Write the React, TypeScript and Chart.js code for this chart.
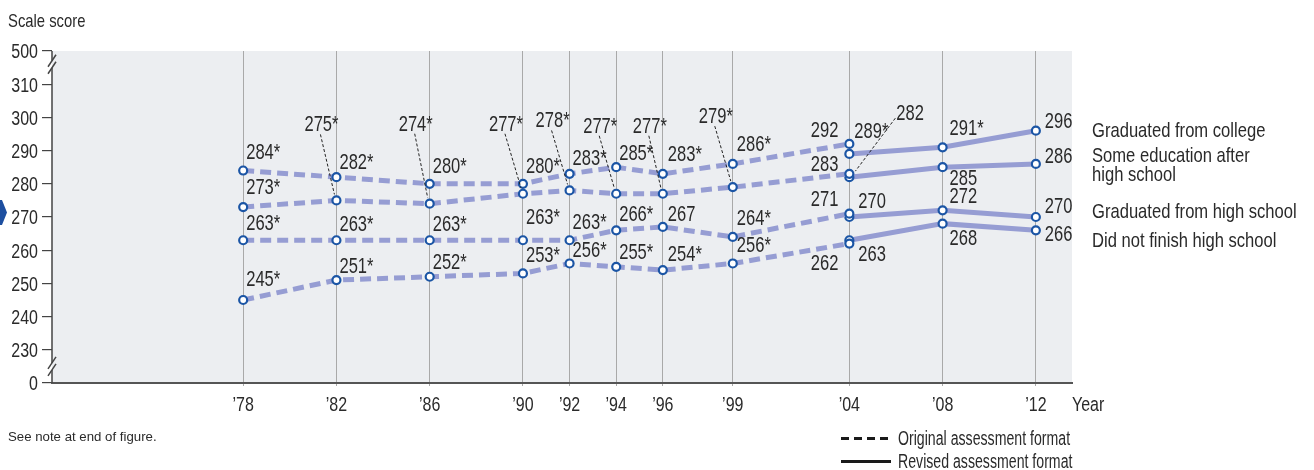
import React, { useEffect, useRef } from 'react';
import { Chart, registerables } from 'chart.js';

Chart.register(...registerables);

// ---------- DATA ----------
const origYears = [1978, 1982, 1986, 1990, 1992, 1994, 1996, 1999, 2004];
const revYears = [2004, 2008, 2012];
const tickYears = [1978, 1982, 1986, 1990, 1992, 1994, 1996, 1999, 2004, 2008, 2012];
const tickYearLabels = ['’78', '’82', '’86', '’90', '’92', '’94', '’96', '’99', '’04', '’08', '’12'];
const yTickValues = [220, 230, 240, 250, 260, 270, 280, 290, 300, 310, 320];
const yTickLabels = ['0', '230', '240', '250', '260', '270', '280', '290', '300', '310', '500'];

const collegeOrig = [284, 282, 280, 280, 283, 285, 283, 286, 292];
const collegeOrigSig = [1, 1, 1, 1, 1, 1, 1, 1, 0];
const collegeRev = [289, 291, 296];
const collegeRevSig = [1, 1, 0];

const someOrig = [273, 275, 274, 277, 278, 277, 277, 279, 283];
const someOrigSig = [1, 1, 1, 1, 1, 1, 1, 1, 0];
const someRev = [282, 285, 286];
const someRevSig = [0, 0, 0];

const hsOrig = [263, 263, 263, 263, 263, 266, 267, 264, 271];
const hsOrigSig = [1, 1, 1, 1, 1, 1, 0, 1, 0];
const hsRev = [270, 272, 270];
const hsRevSig = [0, 0, 0];

const noOrig = [245, 251, 252, 253, 256, 255, 254, 256, 262];
const noOrigSig = [1, 1, 1, 1, 1, 1, 1, 1, 0];
const noRev = [263, 268, 266];
const noRevSig = [0, 0, 0];

const seriesLabelLines = [
  ['Graduated from college'],
  ['Some education after', 'high school'],
  ['Graduated from high school'],
  ['Did not finish high school'],
];

// ---------- STYLE / PLACEMENT ----------
const FONT = "'Liberation Sans', Arial, sans-serif";
const SX = 0.78; // horizontal condensing of text
const TEXT = '#2a2a2a';
const LINE = '#969dd3';
const POINT = '#1b55a5';

type Place = { dx: number; dy: number; align: 'left' | 'right'; lead?: 'down' | 'side' };
const P = (dx: number, dy: number, align: 'left' | 'right' = 'left', lead?: 'down' | 'side'): Place => ({ dx, dy, align, lead });

const placeCollegeOrig = [P(3, -17), P(3, -14), P(3, -17), P(3, -17), P(3, -15), P(3, -13), P(5, -19), P(4, -19), P(-11, -12.5, 'right')];
const placeCollegeRev = [P(5, -22), P(7, -18), P(9, -9)];
const placeSomeOrig = [P(3, -18.5), P(-32, -75, 'left', 'down'), P(-31, -79, 'left', 'down'), P(-34, -69, 'left', 'down'), P(-34, -69, 'left', 'down'), P(-33, -67, 'left', 'down'), P(-30, -67, 'left', 'down'), P(-34, -70, 'left', 'down'), P(-11, -9, 'right')];
const placeSomeRev = [P(47, -63, 'left', 'side'), P(7, 12), P(9, -7)];
const placeHsOrig = [P(3, -16), P(3, -15), P(3, -15), P(3, -22), P(3, -17), P(3, -15), P(5, -11.5), P(4, -18), P(-11, -14, 'right')];
const placeHsRev = [P(9, -14.5), P(7, -13), P(9, -9.5)];
const placeNoOrig = [P(3, -20), P(3, -13.5), P(3, -14), P(3, -17), P(3, -12), P(3, -14), P(5, -14.6), P(4, -17), P(-11, 21, 'right')];
const placeNoRev = [P(9, 15), P(7, 15), P(9, 5)];

const seriesLabelBaselines = [[136.5], [162, 180.5], [218], [247]];

const toPts = (xs: number[], ys: number[]) => xs.map((x, i) => ({ x, y: ys[i] }));

const mkDs = (label: string, xs: number[], ys: number[], dashed: boolean) => ({
  label,
  data: toPts(xs, ys),
  borderColor: LINE,
  borderWidth: 5,
  borderDash: dashed ? [11, 6] : [],
  borderCapStyle: 'butt' as const,
  pointRadius: 4,
  pointBorderWidth: 2.2,
  pointBorderColor: POINT,
  pointBackgroundColor: '#ffffff',
  tension: 0,
  fill: false,
});

const labelInfo = [
  { vals: collegeOrig, sig: collegeOrigSig, place: placeCollegeOrig },
  { vals: collegeRev, sig: collegeRevSig, place: placeCollegeRev },
  { vals: someOrig, sig: someOrigSig, place: placeSomeOrig },
  { vals: someRev, sig: someRevSig, place: placeSomeRev },
  { vals: hsOrig, sig: hsOrigSig, place: placeHsOrig },
  { vals: hsRev, sig: hsRevSig, place: placeHsRev },
  { vals: noOrig, sig: noOrigSig, place: placeNoOrig },
  { vals: noRev, sig: noRevSig, place: placeNoRev },
];

function drawText(
  ctx: CanvasRenderingContext2D,
  txt: string,
  x: number,
  y: number,
  size: number,
  align: CanvasTextAlign = 'left',
  baseline: CanvasTextBaseline = 'alphabetic',
  sx: number = SX,
  family: string = FONT,
) {
  ctx.save();
  ctx.font = `${size}px ${family}`;
  ctx.textAlign = align;
  ctx.textBaseline = baseline;
  ctx.fillStyle = TEXT;
  ctx.translate(x, y);
  ctx.scale(sx, 1);
  ctx.fillText(txt, 0, 0);
  ctx.restore();
}

const decorPlugin = {
  id: 'decor',
  beforeDraw(chart: any) {
    const { ctx, chartArea: a } = chart;
    ctx.save();
    ctx.fillStyle = '#ffffff';
    ctx.fillRect(0, 0, chart.width, chart.height);
    ctx.fillStyle = '#eceef1';
    ctx.fillRect(a.left, a.top, a.right - a.left, a.bottom - a.top);
    ctx.restore();
  },
  afterDatasetsDraw(chart: any) {
    const { ctx } = chart;
    labelInfo.forEach((info, di) => {
      const meta = chart.getDatasetMeta(di);
      info.vals.forEach((v, j) => {
        const pt = meta.data[j];
        const pl = info.place[j];
        const txt = `${v}${info.sig[j] ? '*' : ''}`;
        const tx = pt.x + pl.dx;
        const ty = pt.y + pl.dy;
        drawText(ctx, txt, tx, ty, 21.5, pl.align, 'middle', 0.77);
        if (pl.lead) {
          ctx.save();
          ctx.strokeStyle = '#222';
          ctx.lineWidth = 1;
          ctx.setLineDash([3, 2]);
          ctx.beginPath();
          if (pl.lead === 'down') {
            ctx.moveTo(tx + 16, ty + 9);
            ctx.lineTo(pt.x - 2, pt.y - 6);
          } else {
            ctx.moveTo(tx - 1, ty + 4);
            ctx.lineTo(pt.x + 6, pt.y - 6);
          }
          ctx.stroke();
          ctx.restore();
        }
      });
    });
  },
  afterDraw(chart: any) {
    const { ctx, chartArea: a } = chart;
    const ys = chart.scales.y;
    const xs = chart.scales.x;
    ctx.save();

    // axis tick labels, placed by the library's scales
    ys.ticks.forEach((t: any) => {
      const i = yTickValues.indexOf(t.value);
      if (i < 0) return;
      drawText(ctx, yTickLabels[i], a.left - 14, ys.getPixelForValue(t.value) + 7.3, 20.5, 'right');
    });
    xs.ticks.forEach((t: any) => {
      const i = tickYears.indexOf(t.value);
      if (i < 0) return;
      drawText(ctx, tickYearLabels[i], xs.getPixelForValue(t.value), 411, 20.5, 'center');
    });

    // y axis line with breaks
    const x0 = a.left;
    const b1 = ys.getPixelForValue(316);
    const b2 = ys.getPixelForValue(225);
    const g = 3.5;
    ctx.strokeStyle = '#444';
    ctx.lineWidth = 1.5;
    ctx.beginPath();
    ctx.moveTo(x0, a.top);
    ctx.lineTo(x0, b1 - g);
    ctx.moveTo(x0, b1 + g);
    ctx.lineTo(x0, b2 - g);
    ctx.moveTo(x0, b2 + g);
    ctx.lineTo(x0, a.bottom);
    ctx.stroke();
    [b1, b2].forEach((b) => {
      [-g, g].forEach((o) => {
        ctx.beginPath();
        ctx.moveTo(x0 - 4, b + o + 6);
        ctx.lineTo(x0 + 4, b + o - 6);
        ctx.stroke();
      });
    });

    // title and notes
    drawText(ctx, 'Scale score', 8, 27, 19);
    drawText(ctx, 'Year', 1072, 411, 20.5);
    drawText(ctx, 'See note at end of figure.', 8, 441, 13.5, 'left', 'alphabetic', 0.98);

    // series labels on the right
    seriesLabelLines.forEach((lines, i) => {
      lines.forEach((ln, k) => drawText(ctx, ln, 1092, seriesLabelBaselines[i][k], 21, 'left', 'alphabetic', 0.79));
    });

    // format legend
    drawText(ctx, 'Original assessment format', 898, 445, 19.5, 'left', 'alphabetic', 0.725);
    drawText(ctx, 'Revised assessment format', 898, 468, 19.5, 'left', 'alphabetic', 0.725);
    ctx.strokeStyle = '#1a1a1a';
    ctx.lineWidth = 3;
    ctx.setLineDash([8, 5]);
    ctx.beginPath();
    ctx.moveTo(841, 438.5);
    ctx.lineTo(892, 438.5);
    ctx.stroke();
    ctx.setLineDash([]);
    ctx.beginPath();
    ctx.moveTo(841, 461.5);
    ctx.lineTo(891, 461.5);
    ctx.stroke();

    // left pointer
    ctx.fillStyle = '#1d4fa0';
    ctx.beginPath();
    ctx.moveTo(0, 200);
    ctx.lineTo(2, 200);
    ctx.lineTo(7, 212.5);
    ctx.lineTo(2, 225);
    ctx.lineTo(0, 225);
    ctx.closePath();
    ctx.fill();
    ctx.restore();
  },
};

export default function App() {
  const ref = useRef<HTMLCanvasElement>(null);
  useEffect(() => {
    const chart = new Chart(ref.current as HTMLCanvasElement, {
      type: 'line',
      data: {
        datasets: [
          mkDs('Graduated from college (original)', origYears, collegeOrig, true),
          mkDs('Graduated from college (revised)', revYears, collegeRev, false),
          mkDs('Some education after high school (original)', origYears, someOrig, true),
          mkDs('Some education after high school (revised)', revYears, someRev, false),
          mkDs('Graduated from high school (original)', origYears, hsOrig, true),
          mkDs('Graduated from high school (revised)', revYears, hsRev, false),
          mkDs('Did not finish high school (original)', origYears, noOrig, true),
          mkDs('Did not finish high school (revised)', revYears, noRev, false),
        ],
      },
      options: {
        responsive: false,
        animation: false,
        devicePixelRatio: 1,
        layout: { padding: { top: 51, right: 242, left: 0, bottom: 0 } },
        plugins: { legend: { display: false }, tooltip: { enabled: false } },
        scales: {
          x: {
            type: 'linear',
            min: 1969.8,
            max: 2013.55,
            afterFit: (s: any) => { s.height = 87; },
            afterBuildTicks: (s: any) => { s.ticks = tickYears.map((v) => ({ value: v })); },
            ticks: { display: false, autoSkip: false },
            grid: { color: '#a9a9a9', lineWidth: 1, tickLength: 3, drawTicks: true },
            border: { display: true, color: '#555', width: 2 },
          },
          y: {
            type: 'linear',
            min: 220,
            max: 320,
            afterFit: (s: any) => { s.width = 52; },
            afterBuildTicks: (s: any) => { s.ticks = yTickValues.map((v) => ({ value: v })); },
            ticks: { display: false, autoSkip: false },
            grid: { drawOnChartArea: false, drawTicks: true, tickLength: 10, color: '#444', lineWidth: 1.2 },
            border: { display: false },
          },
        },
      },
      plugins: [decorPlugin],
    } as any);
    return () => chart.destroy();
  }, []);
  return (
    <div style={{ position: 'absolute', left: 0, top: 0, width: 1314, height: 470, background: '#fff' }}>
      <canvas ref={ref} width={1314} height={470} style={{ display: 'block', width: 1314, height: 470 }} />
    </div>
  );
}
